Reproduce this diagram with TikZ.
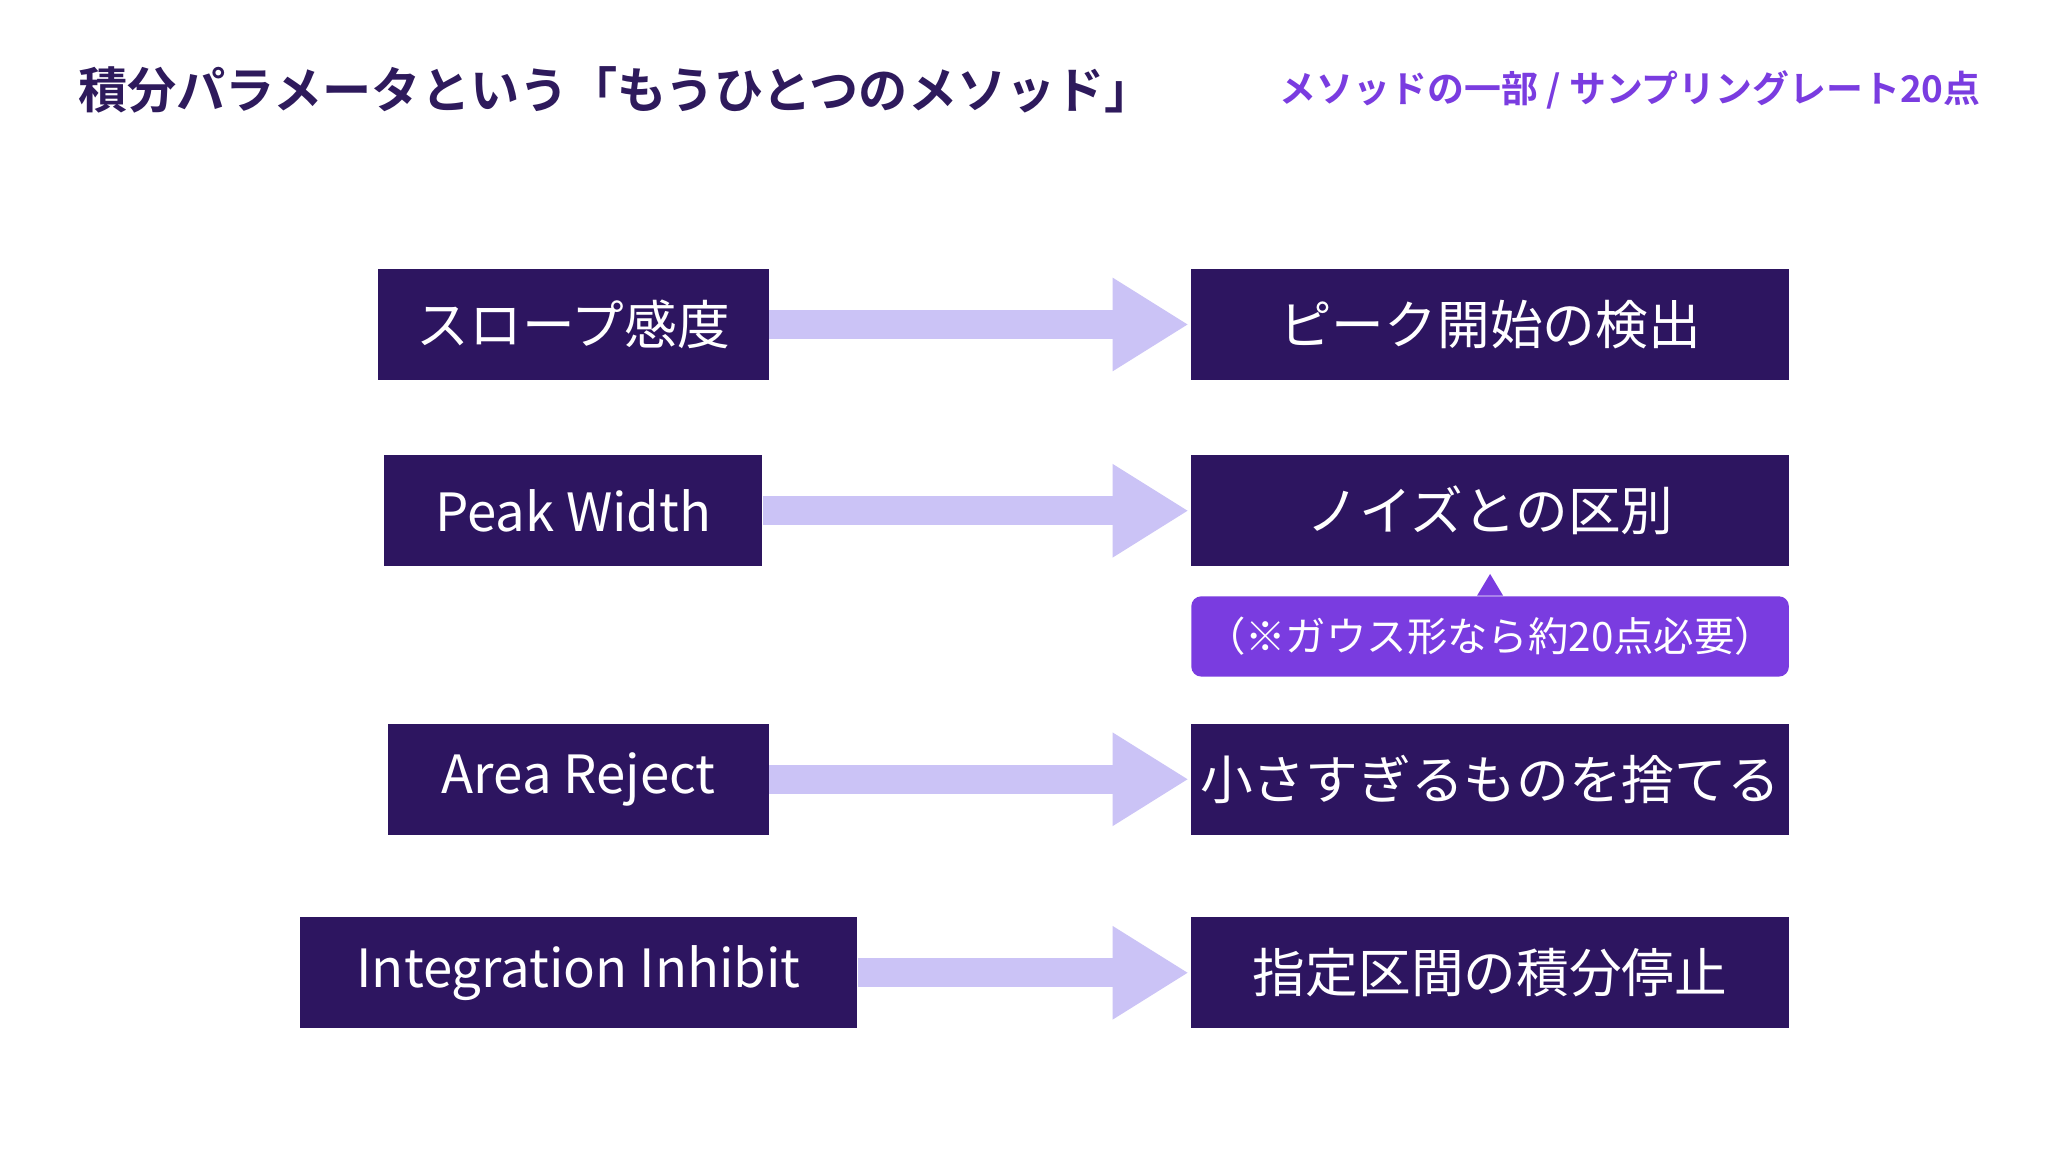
\documentclass[tikz,border=0pt]{standalone}
\usepackage{fontspec}
\newfontfamily\jp{Noto Sans CJK JP}[BoldFont={Noto Sans CJK JP Bold}]
\usetikzlibrary{arrows.meta,shapes.callouts}
\definecolor{boxpurple}{HTML}{2D1560}
\definecolor{titlepurple}{HTML}{2E1A5C}
\definecolor{accent}{HTML}{7A3CE0}
\definecolor{arrowlav}{HTML}{CBC3F6}
\tikzset{
  px/.style={x=0.013163cm,y=-0.013163cm},
  pbox/.style={fill=boxpurple,text=white,font=\jp\fontsize{15}{18}\selectfont,inner sep=0pt,minimum height=84*0.013163cm},
  parrow/.style={draw=arrowlav,line width=22*0.013163cm,-{Triangle[length=0.76cm,width=0.88cm]},shorten >=0.02cm},
}
\begin{document}
\begin{tikzpicture}[px]
\useasboundingbox (0,0) rectangle (1568,876);
\fill[white] (0,0) rectangle (1568,876);
\node[anchor=west,text=titlepurple,font=\jp\bfseries\fontsize{14}{16}\selectfont] (title) at (50,68) {積分パラメータという「もうひとつのメソッド」};
\node[anchor=east,text=accent,font=\jp\bfseries\fontsize{10.5}{12}\selectfont] (sub) at (1514,68) {メソッドの一部 / サンプリングレート20点};
% left boxes
\node[pbox,minimum width=297*0.013163cm] (slope) at (435.5,246.5) {スロープ感度};
\node[pbox,minimum width=287*0.013163cm] (width) at (435.5,388) {Peak Width};
\node[pbox,minimum width=289*0.013163cm] (area) at (439.5,592) {Area Reject};
\node[pbox,minimum width=423*0.013163cm] (inhib) at (439.5,739) {Integration Inhibit};
% right boxes
\foreach \n/\y/\t in {detect/246.5/ピーク開始の検出,noise/388/ノイズとの区別,drop/592/小さすぎるものを捨てる,stop/739/指定区間の積分停止}
  {\node[pbox,minimum width=454*0.013163cm] (\n) at (1132,\y) {\t};}
% arrows
\draw[parrow] (slope.east) -- (detect.west);
\draw[parrow] (width.east) -- (noise.west);
\draw[parrow] (area.east) -- (drop.west);
\draw[parrow] (inhib.east) -- (stop.west);
% note
\node[fill=accent,text=white,rounded corners=0.1cm,inner sep=0pt,minimum width=454*0.013163cm,minimum height=61*0.013163cm,font=\jp\fontsize{11.5}{14}\selectfont] (note) at (1132,483.5) {（※ガウス形なら約20点必要）};
\fill[accent] ([xshift=-0.13cm]note.north) -- (1132,436) -- ([xshift=0.13cm]note.north) -- cycle;
\end{tikzpicture}
\end{document}
